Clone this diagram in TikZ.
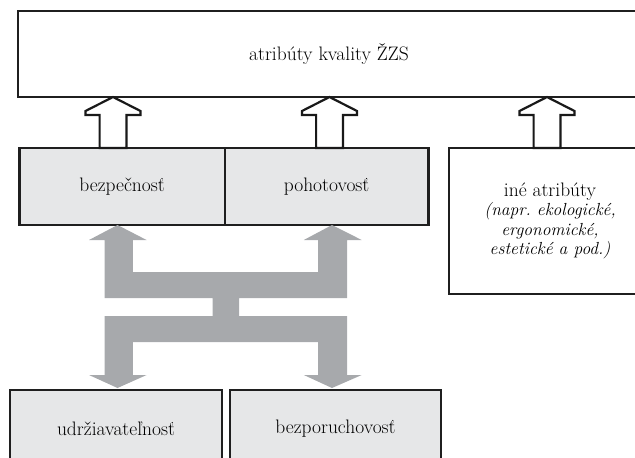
\documentclass[tikz,border=0pt]{standalone}
\usepackage{fontspec}
\definecolor{boxgray}{HTML}{E6E7E8}
\definecolor{arrgray}{HTML}{A7A9AC}
\newcommand\hollowup[3]{%
  \draw[hollow] (#1,#2) -- (#1+27.5,#2+14) -- (#1+27.5,#2+18) -- (#1+13.4,#2+18) -- (#1+13.4,#3)
    -- (#1-13.4,#3) -- (#1-13.4,#2+18) -- (#1-27.5,#2+18) -- (#1-27.5,#2+14) -- cycle;}
\newcommand\itl[1]{{\fontsize{17.5}{20}\selectfont\itshape #1}}
\frenchspacing
\begin{document}
\begin{tikzpicture}[x=1pt,y=-1pt,
  frame/.style={draw=black!88, line width=2.6pt, inner sep=0pt, outer sep=0pt,
    anchor=north west, font=\fontsize{19.5}{19.5}\selectfont, align=center},
  graybox/.style={frame, fill=boxgray, line width=2.4pt},
  hollow/.style={draw=black!90, fill=white, line width=2.2pt, line join=miter},
  grayarrow/.style={fill=arrgray, draw=none}]
\clip (0,0) rectangle (635,458);
% boxes
\node[frame, minimum width=622, minimum height=86] (attr) at (18,11) {atribúty kvality ŽZS};
\node[graybox, minimum width=205.4, minimum height=77] (bez) at (19.4,148) {bezpečnosť};
\node[graybox, minimum width=203.6, minimum height=77] (poh) at (224.8,148) {pohotovosť};
\node[frame, minimum width=202, minimum height=146] (ine) at (449,148)
  {iné atribúty\\ \itl{(napr. ekologické,}\\ \itl{ergonomické,}\\ \itl{estetické a pod.)}};
\node[graybox, minimum width=212, minimum height=78] (udr) at (10,390) {udržiavateľnosť};
\node[graybox, minimum width=211, minimum height=78] (bpo) at (230,390) {bezporuchovosť};
% hollow arrows to the top box
\hollowup{113}{97}{148}
\hollowup{329.5}{97}{148}
\hollowup{547}{97}{148}
% gray double-H connector
\fill[grayarrow] (117.5,225) -- (146.6,240) -- (132.8,240) -- (132.8,272) -- (318,272) -- (318,240)
  -- (303.8,240) -- (332,225) -- (361.7,240) -- (347,240) -- (347,298) -- (239,298) -- (239,316)
  -- (347,316) -- (347,375) -- (361.7,375) -- (332,388) -- (303.8,375) -- (318,375) -- (318,342)
  -- (132.8,342) -- (132.8,375) -- (146.6,375) -- (117.5,388) -- (89,375) -- (104.5,375)
  -- (104.5,316) -- (212.6,316) -- (212.6,298) -- (104.5,298) -- (104.5,240) -- (89,240) -- cycle;
\end{tikzpicture}
\end{document}
